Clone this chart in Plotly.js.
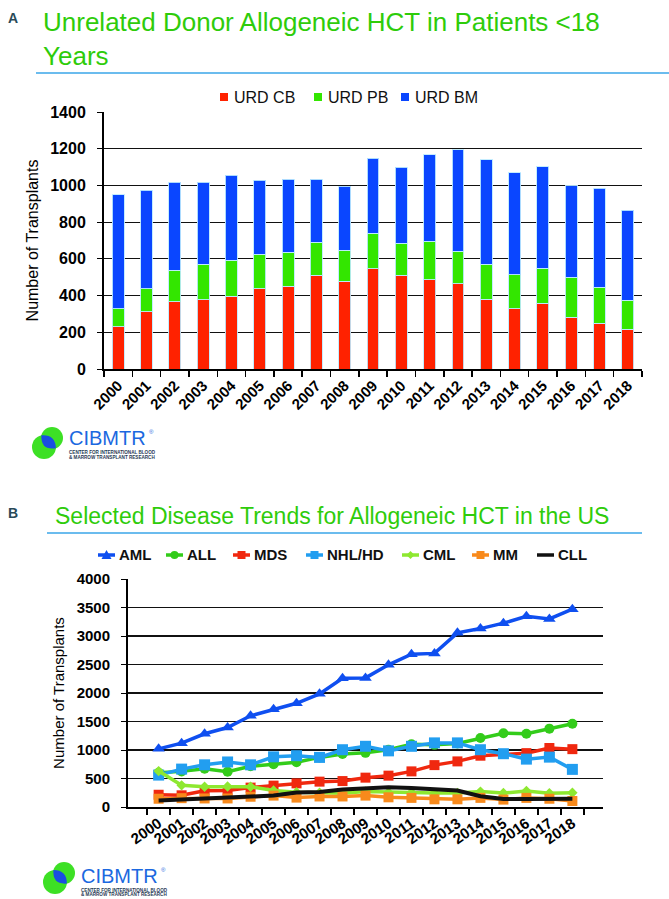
<!DOCTYPE html>
<html>
<head>
<meta charset="utf-8">
<script src="https://cdn.plot.ly/plotly-3.0.1.min.js"></script>
<style>
  body { margin: 0; background: #fff; }
  .chart { position: absolute; left: 0; width: 669px; }
</style>
</head>
<body>
<div id="chartA" class="chart" style="top:0;height:480px"></div>
<div id="chartB" class="chart" style="top:480px;height:419px"></div>
<script>
// ---- Data ----
const years = ['2000','2001','2002','2003','2004','2005','2006','2007','2008','2009',
               '2010','2011','2012','2013','2014','2015','2016','2017','2018'];

// Panel A: unrelated donor allogeneic HCT, patients <18
const donorNames = ['URD CB', 'URD PB', 'URD BM'];
const urdCB = [229, 312, 367, 377, 397, 436, 452, 510, 479, 546, 512, 486, 465, 381, 327, 359, 283, 250, 216];
const urdPB = [98, 124, 172, 195, 195, 188, 185, 181, 167, 194, 174, 211, 177, 191, 187, 189, 216, 196, 158];
const urdBM = [622, 537, 479, 446, 464, 403, 396, 342, 349, 407, 412, 470, 552, 568, 555, 554, 499, 538, 492];

// Panel B: selected disease trends, allogeneic HCT in the US
const diseaseNames = ['AML', 'ALL', 'MDS', 'NHL/HD', 'CML', 'MM', 'CLL'];
const aml = [1020, 1120, 1285, 1395, 1600, 1715, 1820, 1985, 2260, 2265, 2495, 2680, 2695, 3055, 3130, 3225, 3345, 3300, 3470];
const all = [600, 625, 670, 620, 715, 750, 785, 870, 930, 950, 1005, 1100, 1090, 1115, 1210, 1295, 1285, 1375, 1460];
const mds = [215, 205, 285, 290, 340, 375, 415, 445, 455, 515, 550, 625, 735, 800, 900, 930, 945, 1035, 1015];
const nhl = [560, 665, 740, 790, 740, 880, 900, 870, 1005, 1065, 985, 1065, 1125, 1125, 1005, 935, 840, 875, 660];
const cml = [630, 380, 355, 360, 355, 290, 260, 250, 240, 270, 255, 255, 245, 245, 270, 245, 280, 240, 250];
const mm  = [145, 155, 150, 150, 180, 200, 165, 185, 185, 200, 170, 160, 135, 135, 160, 130, 160, 145, 105];
const cll = [115, 130, 160, 170, 175, 200, 255, 265, 305, 320, 345, 335, 315, 290, 190, 140, 140, 150, 145];

// ---- Styles ----
const FONT = 'Liberation Sans, Arial, sans-serif';
const NARROW = 'Liberation Sans Narrow, Liberation Sans, Arial, sans-serif';
const TITLE_GREEN = '#2ecc0a';
const RULE_BLUE = '#3aa6e8';
const donorColors = ['#ff2200', '#33e600', '#0a46ff'];
const diseaseColors = ['#0f4ff0', '#33cc1a', '#f0280f', '#229ef0', '#8ee830', '#f88a1c', '#111111'];
const diseaseSymbols = ['triangle-up', 'circle', 'square', 'square', 'diamond', 'square', null];
const diseaseSizes = [11, 10, 10, 11, 8, 10, 0];

// pixel -> paper helper for a plot area (left, top, width, height)
function frame(L, T, W, H) {
    return { x: p => (p - L) / W, y: p => (T + H - p) / H };
}

function txt(f, x, y, text, size, color, extra) {
    return Object.assign({
        xref: 'paper', yref: 'paper', x: f.x(x), y: f.y(y), text: text,
        showarrow: false, xanchor: 'left', yanchor: 'middle',
        font: { family: FONT, size: size, color: color }
    }, extra || {});
}

function rule(f, x0, x1, y) {
    return { type: 'line', xref: 'paper', yref: 'paper', x0: f.x(x0), x1: f.x(x1),
             y0: f.y(y), y1: f.y(y), line: { color: RULE_BLUE, width: 1.5 } };
}

// CIBMTR logo: two green circles, blue lens where they overlap
function logo(f, c1, r1, c2, r2, tx, ty) {
    const green = '#3de025';
    const circ = (c, r) => ({ type: 'circle', xref: 'paper', yref: 'paper',
        x0: f.x(c[0] - r), x1: f.x(c[0] + r), y0: f.y(c[1] + r), y1: f.y(c[1] - r),
        fillcolor: green, line: { width: 0 } });
    const dx = c2[0] - c1[0], dy = c2[1] - c1[1];
    const d = Math.hypot(dx, dy), ux = dx / d, uy = dy / d;
    const a = (r1 * r1 - r2 * r2 + d * d) / (2 * d);
    const h = Math.sqrt(r1 * r1 - a * a);
    const px = c1[0] + a * ux, py = c1[1] + a * uy;
    const i1 = [px - h * uy, py + h * ux], i2 = [px + h * uy, py - h * ux];
    const m1 = [c1[0] + r1 * ux, c1[1] + r1 * uy], m2 = [c2[0] - r2 * ux, c2[1] - r2 * uy];
    const k1 = [2 * m1[0] - px, 2 * m1[1] - py], k2 = [2 * m2[0] - px, 2 * m2[1] - py];
    const P = p => f.x(p[0]) + ',' + f.y(p[1]);
    const lens = { type: 'path', xref: 'paper', yref: 'paper',
        path: 'M' + P(i1) + ' Q' + P(k1) + ' ' + P(i2) + ' Q' + P(k2) + ' ' + P(i1) + ' Z',
        fillcolor: '#1a4fe0', line: { width: 0 } };
    const shapes = [circ(c1, r1), circ(c2, r2), lens];
    const small = { family: FONT, size: 4.6, color: '#2a3a55', weight: 'bold' };
    const ann = [
        txt(f, tx, ty, 'CIBMTR', 20, '#1b68e0'),
        txt(f, tx + 80, ty - 6, '®', 6, '#1b68e0'),
        txt(f, tx, ty + 14, 'CENTER FOR INTERNATIONAL BLOOD', 4.6, '#2a3a55', { font: small }),
        txt(f, tx, ty + 19, '&amp; MARROW TRANSPLANT RESEARCH', 4.6, '#2a3a55', { font: small })
    ];
    return { shapes: shapes, annotations: ann };
}

// ================= Panel A =================
const fa = frame(104, 112, 538, 257);
const valsA = [urdCB, urdPB, urdBM];
const tracesA = donorNames.map((n, i) => ({
    type: 'bar', x: years, y: valsA[i], name: n,
    marker: { color: donorColors[i], line: { color: 'rgba(190,235,255,0.9)', width: 1 } }
}));

let shapesA = [rule(fa, 36, 669, 73)];
let annA = [
    txt(fa, 6, 18, '<b>A</b>', 14, '#2a4a58', { font: { family: NARROW, size: 14, color: '#2a4a58' } })
];
// legend A (manual, compact like the original)
const legAText = [232, 326, 413];
donorNames.forEach((n, i) => {
    const x = legAText[i];
    shapesA.push({ type: 'rect', xref: 'paper', yref: 'paper',
        x0: fa.x(x - 12), x1: fa.x(x - 4), y0: fa.y(101), y1: fa.y(93),
        fillcolor: donorColors[i], line: { width: 0 } });
    annA.push(txt(fa, x, 97, n, 16, '#111'));
});
const logoA = logo(fa, [44, 447], 12, [52, 438], 11, 67, 438);
shapesA = shapesA.concat(logoA.shapes);
annA = annA.concat(logoA.annotations);

const layoutA = {
    width: 669, height: 480,
    margin: { l: 104, r: 27, t: 112, b: 111 },
    paper_bgcolor: '#fff', plot_bgcolor: '#fff',
    barmode: 'stack', bargap: 0.58, showlegend: false,
    title: {
        text: 'Unrelated Donor Allogeneic HCT in Patients &lt;18<br>Years',
        font: { family: FONT, size: 26, color: TITLE_GREEN },
        xref: 'container', yref: 'container', x: 43 / 669, xanchor: 'left',
        y: 1 - 31 / 480, yanchor: 'top'
    },
    xaxis: {
        type: 'category', tickangle: -45, tickson: 'boundaries',
        ticks: 'outside', ticklen: 6, tickwidth: 1.5, tickcolor: '#000',
        showline: true, linecolor: '#000', linewidth: 2, showgrid: false,
        tickfont: { family: FONT, size: 15, color: '#000', weight: 'bold' }
    },
    yaxis: {
        range: [0, 1400], dtick: 200, showgrid: true, gridcolor: '#111', gridwidth: 1.2,
        showline: true, linecolor: '#000', linewidth: 2, zeroline: false,
        ticks: 'outside', ticklen: 5, tickcolor: '#000', ticklabelstandoff: 8,
        tickfont: { family: FONT, size: 16, color: '#000', weight: 'bold' },
        title: { text: 'Number of Transplants', font: { family: FONT, size: 16, color: '#000' }, standoff: 8 }
    },
    shapes: shapesA, annotations: annA
};
Plotly.newPlot('chartA', tracesA, layoutA, { displayModeBar: false, staticPlot: true });

// ================= Panel B =================
const fb = frame(128, 99, 475, 228); // y in this div's pixels (page y - 480)
const valsB = [aml, all, mds, nhl, cml, mm, cll];
const tracesB = diseaseNames.map((n, i) => ({
    type: 'scatter', x: years, y: valsB[i], name: n,
    mode: diseaseSymbols[i] ? 'lines+markers' : 'lines',
    line: { color: diseaseColors[i], width: diseaseSymbols[i] ? 3.5 : 4 },
    marker: { symbol: diseaseSymbols[i] || 'circle', size: diseaseSizes[i], color: diseaseColors[i] }
}));

let shapesB = [rule(fb, 47, 642, 53)];
let annB = [
    txt(fb, 6, 33, '<b>B</b>', 14, '#2a4a58', { font: { family: NARROW, size: 14, color: '#2a4a58' } })
];
// legend B (manual)
const legBText = [117, 185, 252, 325, 421, 491, 556];
const ly = 75;
diseaseNames.forEach((n, i) => {
    const x = legBText[i], c = diseaseColors[i];
    const x0 = x - 19, x1 = x - 2, cx = (x0 + x1) / 2;
    shapesB.push({ type: 'line', xref: 'paper', yref: 'paper', x0: fb.x(x0), x1: fb.x(x1),
        y0: fb.y(ly), y1: fb.y(ly), line: { color: c, width: 3.5 } });
    const s = diseaseSymbols[i], r = 4;
    const P = (px, py) => fb.x(px) + ',' + fb.y(py);
    if (s === 'triangle-up') {
        shapesB.push({ type: 'path', xref: 'paper', yref: 'paper', fillcolor: c, line: { width: 0 },
            path: 'M' + P(cx - 5, ly + 4) + ' L' + P(cx + 5, ly + 4) + ' L' + P(cx, ly - 5) + ' Z' });
    } else if (s === 'circle') {
        shapesB.push({ type: 'circle', xref: 'paper', yref: 'paper', fillcolor: c, line: { width: 0 },
            x0: fb.x(cx - r), x1: fb.x(cx + r), y0: fb.y(ly + r), y1: fb.y(ly - r) });
    } else if (s === 'square') {
        shapesB.push({ type: 'rect', xref: 'paper', yref: 'paper', fillcolor: c, line: { width: 0 },
            x0: fb.x(cx - r), x1: fb.x(cx + r), y0: fb.y(ly + r), y1: fb.y(ly - r) });
    } else if (s === 'diamond') {
        shapesB.push({ type: 'path', xref: 'paper', yref: 'paper', fillcolor: c, line: { width: 0 },
            path: 'M' + P(cx - 4, ly) + ' L' + P(cx, ly - 4) + ' L' + P(cx + 4, ly) + ' L' + P(cx, ly + 4) + ' Z' });
    }
    annB.push(txt(fb, x, ly, n, 15, '#111', { font: { family: FONT, size: 15, color: '#111', weight: 'bold' } }));
});
const logoB = logo(fb, [55, 402], 12, [64, 393], 11, 79, 396);
shapesB = shapesB.concat(logoB.shapes);
annB = annB.concat(logoB.annotations);

const layoutB = {
    width: 669, height: 419,
    margin: { l: 128, r: 66, t: 99, b: 92 },
    paper_bgcolor: '#fff', plot_bgcolor: '#fff',
    showlegend: false,
    title: {
        text: 'Selected Disease Trends for Allogeneic HCT in the US',
        font: { family: FONT, size: 23, color: TITLE_GREEN },
        xref: 'container', yref: 'container', x: 55 / 669, xanchor: 'left',
        y: 1 - 28 / 419, yanchor: 'top'
    },
    xaxis: {
        type: 'category', tickangle: -35, tickson: 'boundaries',
        ticks: 'outside', ticklen: 6, tickwidth: 1.5, tickcolor: '#000',
        showline: true, linecolor: '#000', linewidth: 2, showgrid: false,
        tickfont: { family: FONT, size: 15, color: '#000', weight: 'bold' }
    },
    yaxis: {
        range: [0, 4000], dtick: 500, showgrid: true, gridcolor: '#111', gridwidth: 1.5,
        showline: true, linecolor: '#000', linewidth: 2, zeroline: false,
        ticks: 'outside', ticklen: 5, tickcolor: '#000', ticklabelstandoff: 8,
        tickfont: { family: FONT, size: 15, color: '#000', weight: 'bold' },
        title: { text: 'Number of Transplants', font: { family: FONT, size: 15, color: '#000' }, standoff: 8 }
    },
    shapes: shapesB, annotations: annB
};
Plotly.newPlot('chartB', tracesB, layoutB, { displayModeBar: false, staticPlot: true });
</script>
</body>
</html>
